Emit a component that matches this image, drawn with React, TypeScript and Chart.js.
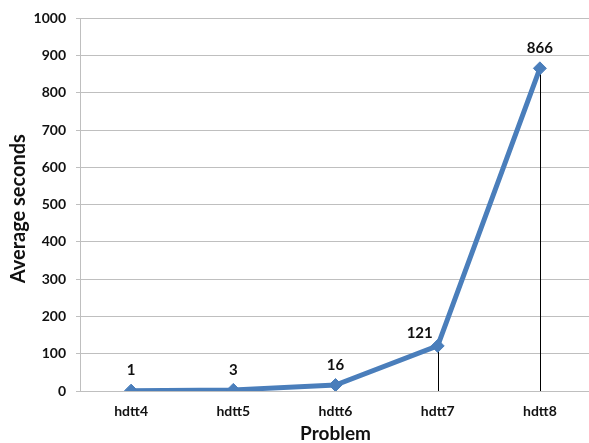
import React, { useEffect, useRef } from "react";
import { Chart, registerables } from "chart.js";

Chart.register(...registerables);

const categories = ["hdtt4", "hdtt5", "hdtt6", "hdtt7", "hdtt8"];
const averageSeconds = [1, 3, 16, 121, 866];
const yTitle = "Average seconds";
const xTitle = "Problem";

const FONT = "Lato, 'Open Sans', sans-serif";
const LINE_COLOR = "#4A7EBB";
const GRID_COLOR = "#BFBFBF";
const TEXT_COLOR = "#111111";

const dropLines = {
  id: "dropLines",
  beforeDatasetsDraw(chart: any) {
    const meta = chart.getDatasetMeta(0);
    const bottom = chart.chartArea.bottom;
    const ctx = chart.ctx;
    ctx.save();
    ctx.strokeStyle = "#000000";
    ctx.lineWidth = 1;
    meta.data.forEach((pt: any) => {
      const x = Math.round(pt.x) + 0.5;
      ctx.beginPath();
      ctx.moveTo(x, pt.y);
      ctx.lineTo(x, bottom);
      ctx.stroke();
    });
    ctx.restore();
  },
};

// label placement relative to each point (style only)
const labelShift = (i: number, n: number) => (i === n - 2 ? { dx: -18, dy: -13 } : { dx: 0, dy: -20 });

const dataLabels = {
  id: "dataLabels",
  afterDatasetsDraw(chart: any) {
    const meta = chart.getDatasetMeta(0);
    const ctx = chart.ctx;
    const data = chart.data.datasets[0].data;
    ctx.save();
    ctx.font = `bold 15px ${FONT}`;
    ctx.fillStyle = TEXT_COLOR;
    ctx.textAlign = "center";
    ctx.textBaseline = "middle";
    meta.data.forEach((pt: any, i: number) => {
      const s = labelShift(i, meta.data.length);
      ctx.fillText(String(data[i]), pt.x + s.dx, pt.y + s.dy);
    });
    ctx.restore();
  },
};

const yTitlePlugin = {
  id: "yTitlePlugin",
  afterDraw(chart: any) {
    const ctx = chart.ctx;
    const area = chart.chartArea;
    ctx.save();
    ctx.translate(19, (area.top + area.bottom) / 2 + 4);
    ctx.rotate(-Math.PI / 2);
    ctx.font = `bold 20px ${FONT}`;
    ctx.fillStyle = TEXT_COLOR;
    ctx.textAlign = "center";
    ctx.textBaseline = "middle";
    ctx.fillText(yTitle, 0, 0);
    ctx.restore();
  },
};

export default function App() {
  const ref = useRef<HTMLCanvasElement | null>(null);
  useEffect(() => {
    if (!ref.current) return;
    const chart = new Chart(ref.current, {
      type: "line",
      data: {
        labels: categories,
        datasets: [
          {
            data: averageSeconds,
            borderColor: LINE_COLOR,
            backgroundColor: LINE_COLOR,
            borderWidth: 5,
            tension: 0,
            pointStyle: "rectRot",
            pointRadius: 6.5,
            pointBackgroundColor: LINE_COLOR,
            pointBorderColor: LINE_COLOR,
            pointBorderWidth: 1,
          },
        ],
      },
      options: {
        responsive: false,
        animation: false,
        layout: { autoPadding: false, padding: { top: 16, left: 0, right: 0, bottom: 0 } },
        plugins: {
          legend: { display: false },
          tooltip: { enabled: false },
        },
        scales: {
          x: {
            offset: true,
            grid: { display: false, drawTicks: false },
            border: { display: false },
            ticks: {
              color: TEXT_COLOR,
              font: { family: FONT, size: 14, weight: "bold" },
              padding: 12,
              maxRotation: 0,
            },
            title: {
              display: true,
              text: xTitle,
              color: TEXT_COLOR,
              font: { family: FONT, size: 19, weight: "bold" },
              padding: { top: 0, bottom: -2 },
            },
            afterFit(scale: any) {
              scale.height = 52;
            },
          },
          y: {
            min: 0,
            max: 1000,
            ticks: {
              stepSize: 100,
              color: TEXT_COLOR,
              font: { family: FONT, size: 14, weight: "bold" },
              padding: 10,
              callback: (v: any) => String(v),
            },
            grid: {
              color: GRID_COLOR,
              tickColor: GRID_COLOR,
              tickLength: 4,
              lineWidth: 1,
            },
            border: { display: true, color: GRID_COLOR },
            title: { display: false, text: yTitle },
            afterFit(scale: any) {
              scale.width = 80;
            },
          },
        },
      },
      plugins: [dropLines, dataLabels, yTitlePlugin],
    });
    return () => chart.destroy();
  }, []);
  return (
    <div
      style={{
        position: "fixed",
        left: 0,
        top: 0,
        width: 589,
        height: 443,
        overflow: "hidden",
        background: "#ffffff",
      }}
    >
      <canvas ref={ref} width={591} height={443} style={{ display: "block" }} />
    </div>
  );
}
